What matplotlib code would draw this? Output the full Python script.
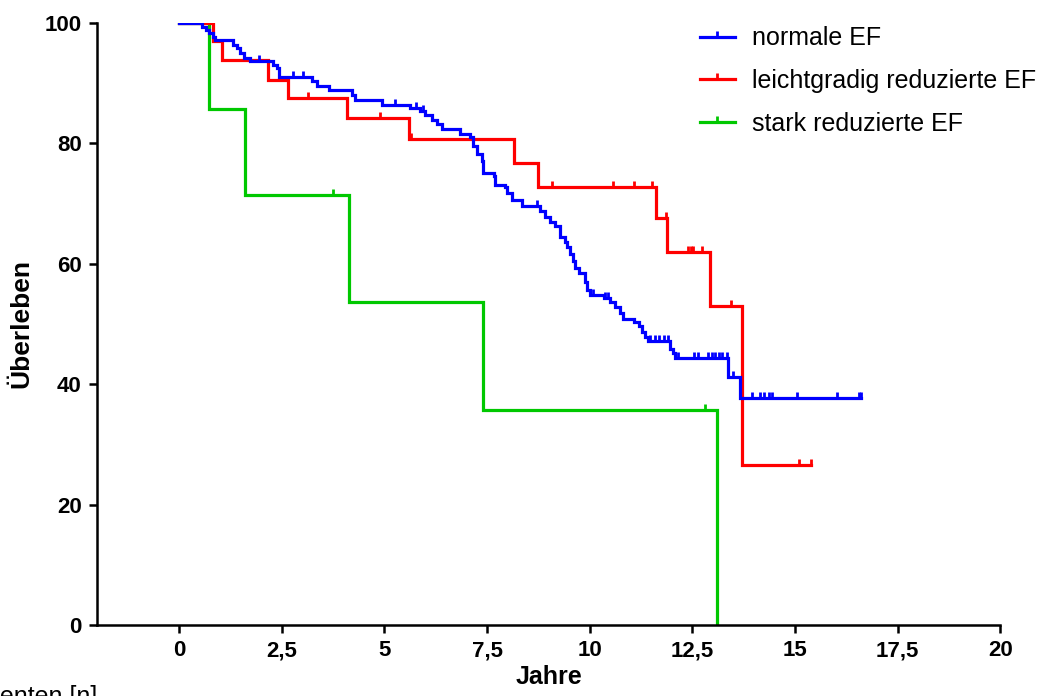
import numpy as np
import matplotlib
matplotlib.use("Agg")
import matplotlib.pyplot as plt
from matplotlib.path import Path
from matplotlib.lines import Line2D

plt.rcParams["font.family"] = ["Liberation Sans", "DejaVu Sans"]

# Kaplan-Meier: Zeitpunkte (Jahre) und Überleben (%) nach jedem Ereignis
normal_t = [0, 0.55, 0.66, 0.74, 0.82, 0.88, 1.31, 1.40, 1.49, 1.57, 1.73,
            2.29, 2.38, 2.44, 3.23, 3.35, 3.64, 4.20, 4.29, 4.94, 5.63, 5.87,
            5.99, 6.16, 6.28, 6.40, 6.85, 7.08, 7.17, 7.25, 7.37, 7.41, 7.66,
            7.70, 7.94, 7.98, 8.10, 8.35, 8.79, 8.92, 9.04, 9.16, 9.28, 9.40,
            9.44, 9.52, 9.59, 9.65, 9.73, 9.89, 9.93, 10.01, 10.34, 10.50,
            10.62, 10.74, 10.82, 11.07, 11.19, 11.27, 11.35, 11.43, 11.96,
            12.04, 12.08, 13.38, 13.67, 16.60]
normal_s = [100, 99.4, 98.8, 98.3, 97.7, 97.2, 96.3, 95.8, 95.0, 94.1, 93.6,
            93.0, 92.5, 91.1, 90.3, 89.5, 88.9, 88.0, 87.2, 86.4, 85.8, 85.3,
            84.7, 83.9, 83.2, 82.4, 81.6, 81.0, 79.5, 78.3, 77.0, 75.0, 74.5,
            73.1, 72.8, 71.7, 70.6, 69.6, 68.8, 67.8, 67.0, 66.2, 64.5, 63.7,
            62.8, 61.7, 60.4, 59.3, 58.4, 57.0, 55.6, 54.8, 54.3, 53.7, 52.9,
            51.8, 50.9, 50.4, 49.6, 48.7, 47.9, 47.2, 45.9, 45.1, 44.3, 41.2,
            37.7, 37.7]
normal_cens = [1.95, 2.78, 3.01, 5.26, 5.77, 5.95, 8.71, 10.09, 10.38, 10.45,
               11.47, 11.60, 11.70, 11.80, 11.90, 12.16, 12.53, 12.65, 12.89,
               12.98, 13.06, 13.14, 13.22, 13.34, 13.50, 13.95, 14.15, 14.25,
               14.36, 14.44, 15.05, 16.02, 16.55, 16.60]

mild_t = [0, 0.83, 1.04, 2.17, 2.65, 4.10, 5.60, 8.16, 8.75, 11.62, 11.88,
          12.92, 13.71, 15.40]
mild_s = [100, 97.0, 93.8, 90.6, 87.5, 84.2, 80.8, 76.8, 72.7, 67.6, 61.9,
          53.0, 26.5, 26.5]
mild_cens = [3.15, 4.90, 5.65, 9.08, 10.57, 11.08, 11.53, 11.86, 12.40, 12.46,
             12.52, 12.73, 13.44, 15.10, 15.38]

severe_t = [0, 0.73, 1.60, 4.15, 7.40, 13.10]
severe_s = [100, 85.7, 71.4, 53.6, 35.7, 0]
severe_cens = [3.75, 12.80]

labels = ["normale EF", "leichtgradig reduzierte EF", "stark reduzierte EF"]
colors = ["#0000FF", "#FF0000", "#00C800"]

x_ticks = [0, 2.5, 5, 7.5, 10, 12.5, 15, 17.5, 20]
x_ticklabels = ["0", "2,5", "5", "7,5", "10", "12,5", "15", "17,5", "20"]
y_ticks = [0, 20, 40, 60, 80, 100]

# senkrechter Strich nach oben als Zensierungsmarke
tick_up = Path([(0, 0), (0, 1)])
LW = 2.3


def km_curve(ax, t, s, cens, color):
    t = np.asarray(t)
    s = np.asarray(s)
    ax.step(t, s, where="post", color=color, lw=LW, solid_joinstyle="miter")
    idx = np.searchsorted(t, cens, side="right") - 1
    ax.plot(cens, s[idx], ls="none", marker=tick_up, ms=8, mew=2,
            color=color)


fig = plt.figure(figsize=(10.43, 6.96), dpi=100)
ax = fig.add_axes([0.093, 0.102, 0.866, 0.865])

km_curve(ax, severe_t, severe_s, severe_cens, colors[2])
km_curve(ax, mild_t, mild_s, mild_cens, colors[1])
km_curve(ax, normal_t, normal_s, normal_cens, colors[0])

ax.set_xlim(-2, 20)
ax.set_ylim(0, 100)
ax.set_xticks(x_ticks, x_ticklabels, fontsize=16, fontweight="bold")
ax.set_yticks(y_ticks, [str(v) for v in y_ticks], fontsize=16,
              fontweight="bold")
ax.tick_params(width=1.8, length=6, pad=5)
for side in ["top", "right"]:
    ax.spines[side].set_visible(False)
for side in ["left", "bottom"]:
    ax.spines[side].set_linewidth(1.8)

ax.set_xlabel("Jahre", fontsize=18, fontweight="bold", labelpad=3)
ax.set_ylabel("Überleben", fontsize=19, fontweight="bold", labelpad=8)

handles = [Line2D([], [], color=c, lw=LW, marker=tick_up, ms=8, mew=2)
           for c in colors]
fig.legend(handles, labels, loc="upper left",
           bbox_to_anchor=(0.671, 0.962), frameon=False, fontsize=18,
           handlelength=1.4, handletextpad=0.7, labelspacing=0.75,
           borderaxespad=0, borderpad=0)

fig.text(-0.041, -0.012, "Patienten [n]", fontsize=18, va="baseline")

fig.savefig("out.png", dpi=100)
